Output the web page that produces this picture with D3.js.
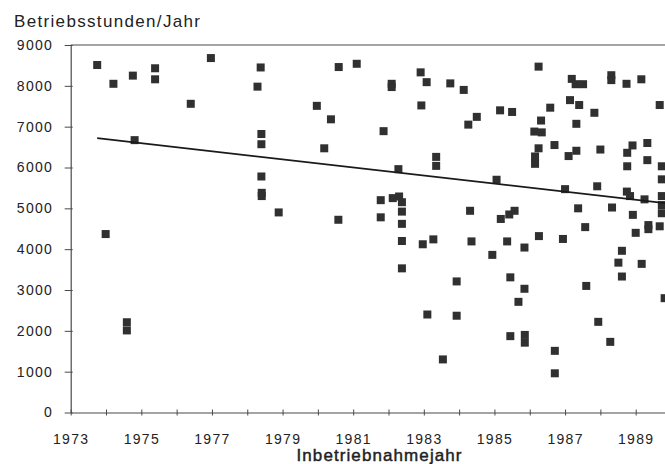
<!DOCTYPE html>
<html>
<head>
<meta charset="utf-8">
<script src="https://cdn.jsdelivr.net/npm/d3@7"></script>
<style>
  body { margin: 0; background: #fff; }
  svg text { font-family: "Liberation Sans", Arial, sans-serif; fill: #222; }
</style>
</head>
<body>
<div class="chart"></div>
<script>

// Inbetriebnahmejahr (x) and Betriebsstunden/Jahr (y)
var installYears = [
  1973.75, 1974.21, 1974.76, 1975.39, 1975.39, 1976.40, 1976.97, 1974.81, 1973.99, 1974.59, 1974.59,
  1978.38, 1978.29, 1978.40, 1978.40, 1978.40, 1978.41, 1978.41, 1978.89,
  1979.97, 1980.37, 1980.18, 1980.59, 1980.58, 1981.10,
  1982.09, 1982.09, 1981.86, 1981.78, 1981.78, 1982.12, 1982.30, 1982.38, 1982.38, 1982.38, 1982.38, 1982.38, 1982.28,
  1982.91, 1983.08, 1982.93, 1983.35, 1983.35, 1982.97, 1983.27, 1983.75,
  1984.13, 1984.26, 1984.50, 1984.31, 1984.35, 1983.93, 1983.10, 1983.93, 1983.54,
  1985.06, 1985.16, 1985.50, 1985.18, 1985.42, 1985.57, 1985.36, 1984.94, 1985.85, 1985.45, 1985.85, 1985.68, 1985.45, 1985.86, 1985.86,
  1986.25, 1986.58, 1986.32, 1986.13, 1986.34, 1986.25, 1986.15, 1986.15, 1986.70, 1986.26, 1986.94, 1986.71, 1986.71,
  1987.00, 1987.19, 1987.30, 1987.51, 1987.14, 1987.40, 1987.32, 1987.32, 1987.10, 1987.83, 1987.37, 1987.57, 1987.91,
  1988.00, 1987.60, 1987.94, 1988.28, 1988.31, 1988.31, 1988.33, 1988.74, 1989.16, 1988.76, 1988.91, 1989.33,
  1988.76, 1989.33, 1988.75, 1988.84, 1989.25, 1988.92, 1989.00, 1989.36, 1989.36,
  1989.68, 1989.74, 1989.74, 1989.74, 1989.74, 1989.74, 1989.68, 1988.61, 1988.51, 1989.17, 1988.61, 1989.82
];
var hoursPerYear = [
  8510, 8050, 8250, 8430, 8160, 7560, 8680, 6670, 4370, 2210, 2010,
  8450, 7980, 6820, 6570, 5780, 5380, 5300, 4900,
  7510, 7180, 6470, 8460, 4720, 8540,
  8050, 7970, 6890, 5200, 4780, 5250, 5290, 5150, 4920, 4620, 4200, 3530, 5960,
  8330, 8090, 7520, 6260, 6040, 4120, 4240, 8060,
  7900, 7050, 7240, 4940, 4190, 3210, 2400, 2370, 1300,
  5700, 7400, 7360, 4740, 4850, 4940, 4190, 3860, 4040, 3310, 3030, 2710, 1870, 1900, 1710,
  8470, 7465, 7150, 6880, 6860, 6470, 6270, 6090, 6550, 4320, 4250, 1510, 960,
  5470, 8170, 8040, 8040, 7650, 7530, 7070, 6410, 6280, 7340, 5000, 4540, 5540,
  6440, 3100, 2220, 1730, 8260, 8140, 5020, 8050, 8160, 6360, 6540, 6600,
  6030, 6180, 5410, 5300, 5220, 4840, 4400, 4590, 4490,
  7530, 6030, 5710, 5300, 5080, 4880, 4560, 3960, 3670, 3640, 3330, 2800
];

// regression line end points
var trendYears = [1973.75, 1990];
var trendHours = [6720, 5110];

var yTicks = [0, 1000, 2000, 3000, 4000, 5000, 6000, 7000, 8000, 9000];
var xTicks = [1973, 1974, 1975, 1976, 1977, 1978, 1979, 1980, 1981, 1982, 1983, 1984, 1985, 1986, 1987, 1988, 1989, 1990];
var xTickLabels = [1973, 1975, 1977, 1979, 1981, 1983, 1985, 1987, 1989];

var yTitle = "Betriebsstunden/Jahr";
var xTitle = "Inbetriebnahmejahr";

var width = 665;
var height = 464;

var svg = d3.select('.chart').append('svg').attr('width', width).attr('height', height);

var x = d3.scaleLinear().domain([1973, 1990]).range([70.7, 671]);
var y = d3.scaleLinear().domain([0, 9000]).range([412.5, 45]);

var axisColor = "#4a4a4a";

// top frame line
svg.append("line")
    .attr("x1", x(1973)).attr("x2", width)
    .attr("y1", y(9000)).attr("y2", y(9000))
    .attr("stroke", axisColor).attr("stroke-width", 1.2);

var yAxis = svg.append("g")
    .attr("transform", "translate(" + x(1973) + ",0)")
    .call(d3.axisLeft(y).tickValues(yTicks).tickSizeOuter(0).tickFormat(d3.format("d")));

yAxis.select(".domain").attr("stroke", axisColor).attr("stroke-width", 1.2);
yAxis.selectAll(".tick line").attr("x1", 2).attr("x2", -6).attr("stroke", axisColor);
yAxis.selectAll(".tick text")
    .attr("x", -17.5)
    .attr("font-size", "14px")
    .attr("letter-spacing", "1.3px")
    .attr("fill", "#222");

var xAxis = svg.append("g")
    .attr("transform", "translate(0," + y(0) + ")")
    .call(d3.axisBottom(x).tickValues(xTicks).tickSizeOuter(0)
        .tickFormat(function(d) { return xTickLabels.indexOf(d) >= 0 ? d : ""; }));

xAxis.select(".domain").attr("stroke", axisColor).attr("stroke-width", 1.2);
xAxis.selectAll(".tick line").attr("y1", -3).attr("y2", 3).attr("stroke", axisColor);
xAxis.selectAll(".tick text")
    .attr("y", 31).attr("dy", 0)
    .attr("font-size", "14px")
    .attr("letter-spacing", "1.3px")
    .attr("fill", "#222");

// points
var pts = installYears.map(function(d, i) { return {year: d, hours: hoursPerYear[i]}; });
var size = 8;

svg.append("g").selectAll("rect")
    .data(pts).enter().append("rect")
    .attr("x", function(d) { return x(d.year) - size / 2; })
    .attr("y", function(d) { return y(d.hours) - size / 2; })
    .attr("width", size).attr("height", size)
    .attr("fill", "#303030");

// trend line
var line = d3.line()
    .x(function(d) { return x(d[0]); })
    .y(function(d) { return y(d[1]); });

svg.append("path")
    .datum(trendYears.map(function(d, i) { return [d, trendHours[i]]; }))
    .attr("d", line)
    .attr("fill", "none")
    .attr("stroke", "#1a1a1a")
    .attr("stroke-width", 1.8);

// titles
svg.append("text")
    .attr("x", 14).attr("y", 27)
    .attr("font-size", "17px")
    .attr("textLength", 186).attr("lengthAdjust", "spacing")
    .text(yTitle);

svg.append("text")
    .attr("x", 296.5).attr("y", 461)
    .attr("font-size", "17px")
    .attr("fill", "#1e1e1e")
    .attr("stroke", "#1e1e1e")
    .attr("stroke-width", 0.45)
    .attr("textLength", 165).attr("lengthAdjust", "spacing")
    .text(xTitle);

</script>
</body>
</html>
